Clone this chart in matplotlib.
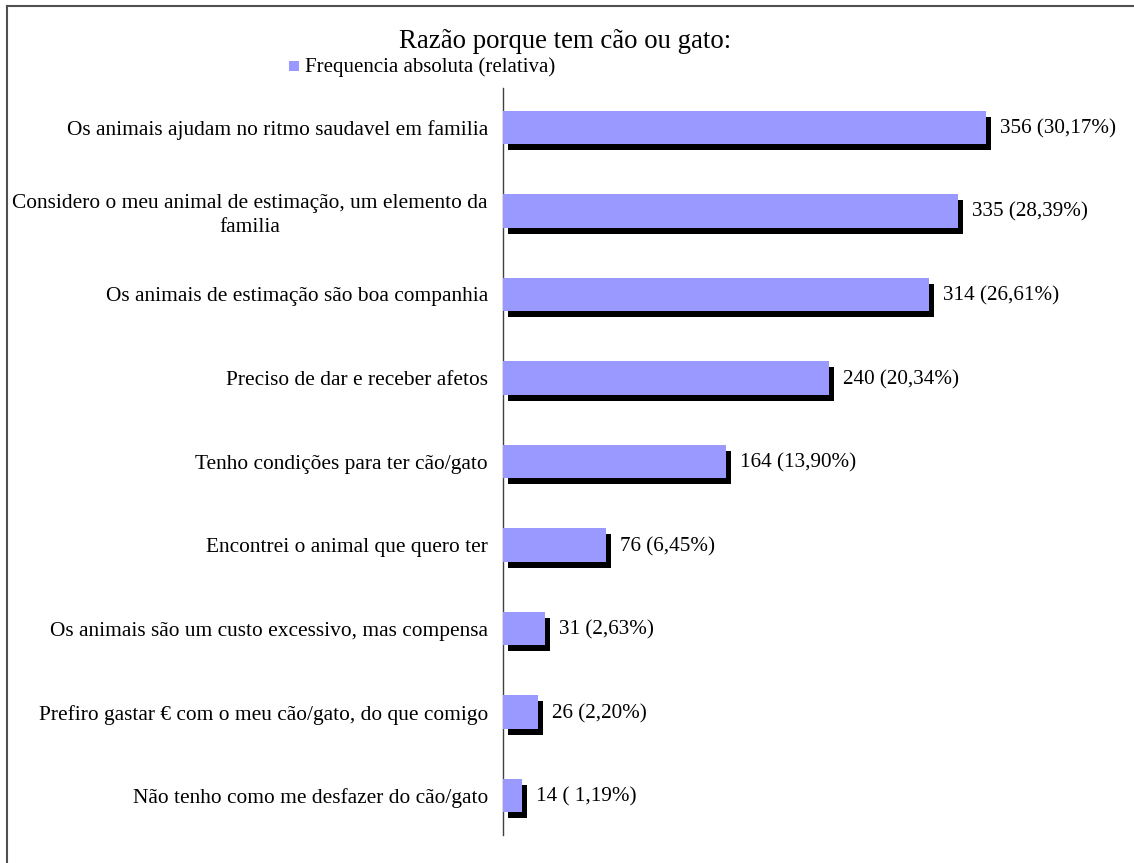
import matplotlib.pyplot as plt
import matplotlib.patheffects as pe
from matplotlib.lines import Line2D
from matplotlib.patches import Rectangle

plt.rcParams['font.family'] = ['Liberation Serif', 'DejaVu Serif']

razoes = ['Os animais ajudam no ritmo saudavel em familia',
	'Considero o meu animal de estimação, um elemento da\nfamilia',
	'Os animais de estimação são boa companhia',
	'Preciso de dar e receber afetos',
	'Tenho condições para ter cão/gato',
	'Encontrei o animal que quero ter',
	'Os animais são um custo excessivo, mas compensa',
	'Prefiro gastar € com o meu cão/gato, do que comigo',
	'Não tenho como me desfazer do cão/gato']
freq_abs = [356, 335, 314, 240, 164, 76, 31, 26, 14]
freq_rel = ['30,17', '28,39', '26,61', '20,34', '13,90', '6,45', '2,63', '2,20', ' 1,19']

BAR_COLOR = '#9999ff'

fig = plt.figure(figsize=(11.34, 8.63), dpi=100)
ax = fig.add_axes([0.4436, 0.0324, 0.5388, 0.8656])

pos = list(range(len(razoes)))
bars = ax.barh(pos, freq_abs, height=0.4, color=BAR_COLOR, zorder=3)
for b in bars:
	b.set_path_effects([pe.SimplePatchShadow(offset=(3.6, -4.3), shadow_rgbFace='black', alpha=1.0),
		pe.Normal()])

for p, n, r in zip(pos, freq_abs, freq_rel):
	ax.annotate(f'{n} ({r}%)', xy=(n, p), xytext=(10, -1), textcoords='offset points',
		ha='left', va='center', fontsize=15.2)

ax.set_xlim(0, 450)
ax.set_ylim(len(razoes) - 0.53, -0.47)
ax.set_yticks(pos)
ax.set_yticklabels(razoes, fontsize=15.4, multialignment='center', linespacing=1.3)
ax.tick_params(axis='y', length=0, pad=11)
ax.set_xticks([])
for s in ['top', 'right', 'bottom']:
	ax.spines[s].set_visible(False)
ax.spines['left'].set_color('#404040')
ax.spines['left'].set_linewidth(1.0)

fig.text(0.498, 0.9515, 'Razão porque tem cão ou gato:', ha='center', va='center', fontsize=19.3)
fig.patches.append(Rectangle((0.2549, 0.9177), 0.0088, 0.0116, transform=fig.transFigure,
	facecolor=BAR_COLOR, edgecolor='none'))
fig.text(0.2689, 0.9224, 'Frequencia absoluta (relativa)', ha='left', va='center', fontsize=15)

# chart area border
fig.add_artist(Line2D([0.0066, 0.0066], [0.0, 0.9935], transform=fig.transFigure,
	color='#505050', linewidth=1.5))
fig.add_artist(Line2D([0.0066, 1.0], [0.9935, 0.9935], transform=fig.transFigure,
	color='#505050', linewidth=1.5))

fig.savefig('out.png', dpi=100)
